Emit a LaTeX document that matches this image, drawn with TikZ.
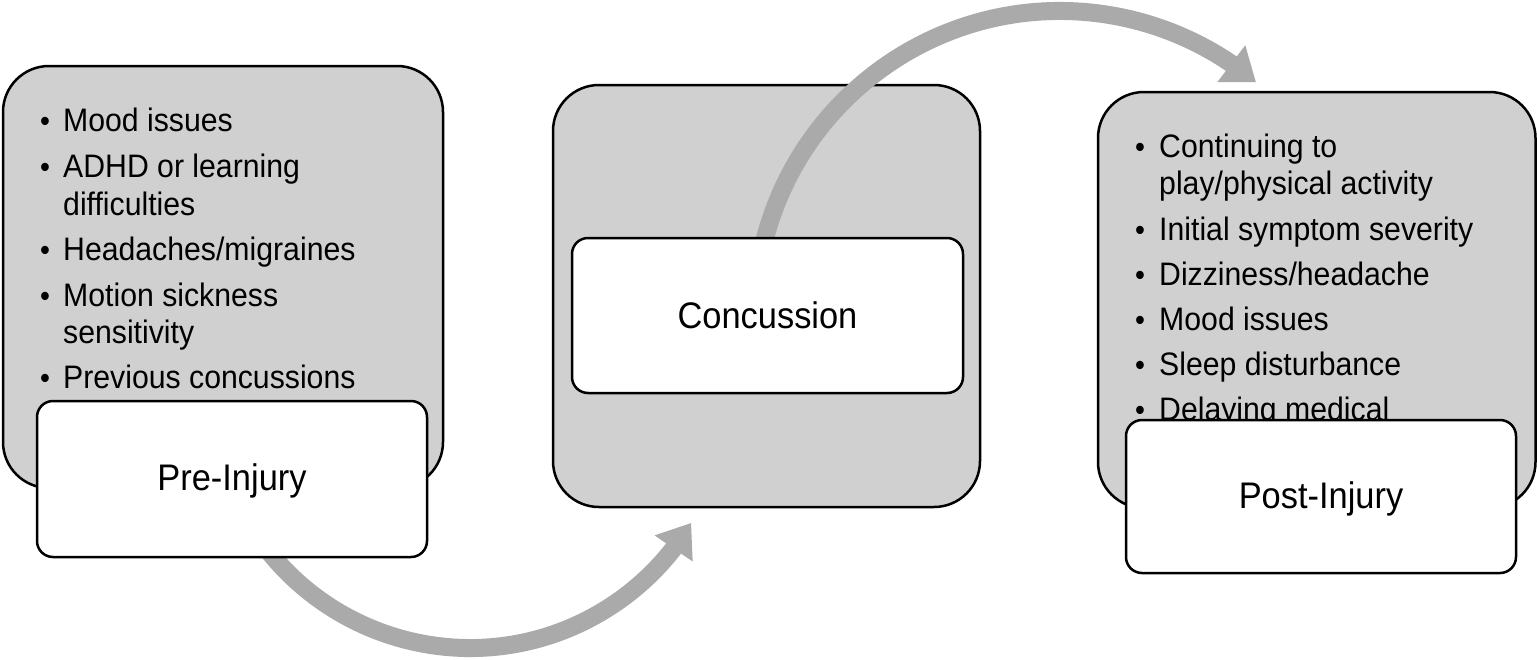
\documentclass[tikz,border=0pt]{standalone}
\usepackage{fontspec}
\setmainfont{Liberation Sans}[FakeStretch=0.93]
\usetikzlibrary{arrows.meta,bending}
\definecolor{boxgray}{RGB}{208,208,208}
\definecolor{arrowgray}{RGB}{170,170,170}
\tikzset{
  graybox/.style={draw=black, line width=2.5pt, fill=boxgray, rounded corners=46pt, inner sep=0pt, outer sep=0pt},
  whitebox/.style={draw=black, line width=2.5pt, fill=white, rounded corners=16pt, inner sep=0pt, outer sep=0pt},
  bigarrow/.style={draw=arrowgray, line width=18pt, -{Triangle[length=31pt,width=44pt]}},
  itemtext/.style={anchor=base west, inner sep=0pt, font=\fontsize{32.5pt}{37.5pt}\selectfont},
  bul/.style={anchor=base, inner sep=0pt, font=\fontsize{30.4pt}{37.5pt}\selectfont},
  titletext/.style={anchor=base, inner sep=0pt, font=\fontsize{37pt}{42pt}\selectfont}
}
\begin{document}
\begin{tikzpicture}[x=1pt, y=-1pt]
\fill[white] (0,0) rectangle (1537,659);
\useasboundingbox (0,0) rectangle (1537,659);
\coordinate (c1) at (470,390);
\coordinate (c2) at (1060,316);

% ---- Pre-Injury ----
\node[graybox, minimum width=440pt, minimum height=422pt] (g1) at (223,277) {};
\node[bul] (b1a) at (45,131.7) {•};
\node[itemtext] (t1a) at (63,131.7) {Mood issues};
\node[bul] (b1b) at (45,177.3) {•};
\node[itemtext] (t1b) at (63,177.3) {ADHD or learning};
\node[itemtext] (t1c) at (63,215) {difficulties};
\node[bul] (b1d) at (45,260.7) {•};
\node[itemtext] (t1d) at (63,260.7) {Headaches/migraines};
\node[bul] (b1e) at (45,306) {•};
\node[itemtext] (t1e) at (63,306) {Motion sickness};
\node[itemtext] (t1f) at (63,343.3) {sensitivity};
\node[bul] (b1g) at (45,388.3) {•};
\node[itemtext] (t1g) at (63,388.3) {Previous concussions};

\draw[bigarrow] (c1) ++(150:258) arc[start angle=150, end angle=31, radius=258];

\node[whitebox, minimum width=390pt, minimum height=156pt] (w1) at (232,479) {};
\node[titletext] (l1) at (232,490) {Pre-Injury};

% ---- Concussion ----
\node[graybox, minimum width=427pt, minimum height=422pt] (g2) at (766.5,296) {};
\draw[bigarrow] (c2) ++(-170:305) arc[start angle=-170, end angle=-50, radius=305];
\node[whitebox, minimum width=391pt, minimum height=155pt] (w2) at (767.5,315.5) {};
\node[titletext] (l2) at (767.5,328.3) {Concussion};

% ---- Post-Injury ----
\node[graybox, minimum width=437.5pt, minimum height=416pt] (g3) at (1316.75,300) {};
\begin{scope}
\clip (1098,92) rectangle (1537,418);
\node[bul] (b3a) at (1140,157.3) {•};
\node[itemtext] (t3a) at (1159,157.3) {Continuing to};
\node[itemtext] (t3b) at (1159,194) {play/physical activity};
\node[bul] (b3c) at (1140,240) {•};
\node[itemtext] (t3c) at (1159,240) {Initial symptom severity};
\node[bul] (b3d) at (1140,285) {•};
\node[itemtext] (t3d) at (1159,285) {Dizziness/headache};
\node[bul] (b3e) at (1140,330) {•};
\node[itemtext] (t3e) at (1159,330) {Mood issues};
\node[bul] (b3f) at (1140,375) {•};
\node[itemtext] (t3f) at (1159,375) {Sleep disturbance};
\node[bul] (b3g) at (1140,420) {•};
\node[itemtext] (t3g) at (1159,420) {Delaying medical};
\end{scope}
\node[whitebox, minimum width=390pt, minimum height=153pt] (w3) at (1321,496.5) {};
\node[titletext] (l3) at (1321,508) {Post-Injury};
\end{tikzpicture}
\end{document}
